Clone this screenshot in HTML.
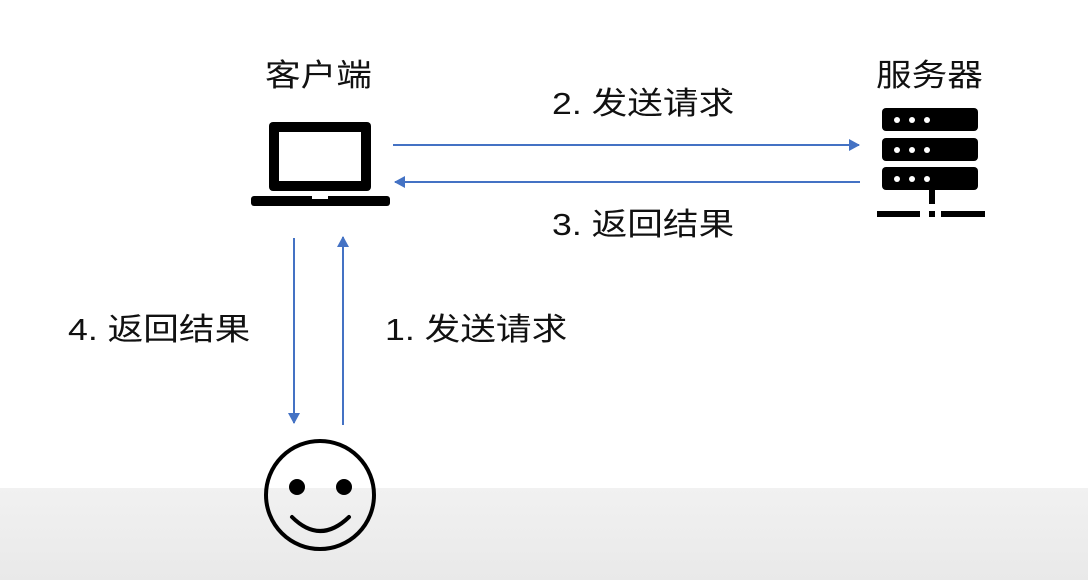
<!DOCTYPE html>
<html><head><meta charset="utf-8"><style>
html,body{margin:0;padding:0}
body{width:1088px;height:580px;position:relative;overflow:hidden;background:#fff;font-family:"Liberation Sans","Noto Sans CJK SC",sans-serif;}
.band{position:absolute;left:0;top:488px;width:1088px;height:92px;background:linear-gradient(#f1f1f1,#e9e9e9);}
.t{position:absolute;font-size:31px;color:#111;white-space:nowrap;line-height:1;transform:scaleX(1.15);transform-origin:0 0;}
svg{position:absolute;left:0;top:0}
</style></head><body>
<div class="band"></div>
<svg width="1088" height="580" viewBox="0 0 1088 580">
<defs>
<marker id="a" markerWidth="12" markerHeight="12" refX="10" refY="6" orient="auto" markerUnits="userSpaceOnUse">
<path d="M0,0 L11,6 L0,12 z" fill="#4472c4"/></marker>
</defs>
<g stroke="#4472c4" stroke-width="2" fill="none">
<line x1="393" y1="145" x2="859" y2="145" marker-end="url(#a)"/>
<line x1="860" y1="182" x2="395" y2="182" marker-end="url(#a)"/>
<line x1="294" y1="238" x2="294" y2="423" marker-end="url(#a)"/>
<line x1="343" y1="425" x2="343" y2="237" marker-end="url(#a)"/>
</g>
<rect x="269" y="122" width="102" height="69" rx="4" fill="#000"/>
<rect x="279" y="132" width="82" height="49" fill="#fff"/>
<rect x="251" y="196" width="139" height="10" rx="3" fill="#000"/>
<rect x="312" y="196" width="16" height="3" fill="#fff"/>
<g fill="#000">
<rect x="882" y="108" width="96" height="23" rx="4"/>
<rect x="882" y="138" width="96" height="23" rx="4"/>
<rect x="882" y="167" width="96" height="23" rx="4"/>
<rect x="929" y="189" width="6" height="15"/>
<rect x="877" y="211" width="43" height="6"/>
<rect x="929" y="211" width="6" height="6"/>
<rect x="941" y="211" width="44" height="6"/>
</g>
<g fill="#fff">
<circle cx="897" cy="120" r="3"/><circle cx="912" cy="120" r="3"/><circle cx="927" cy="120" r="3"/>
<circle cx="897" cy="150" r="3"/><circle cx="912" cy="150" r="3"/><circle cx="927" cy="150" r="3"/>
<circle cx="897" cy="179" r="3"/><circle cx="912" cy="179" r="3"/><circle cx="927" cy="179" r="3"/>
</g>
<circle cx="320" cy="495" r="54" fill="none" stroke="#000" stroke-width="4"/>
<circle cx="297" cy="487" r="8" fill="#000"/>
<circle cx="344" cy="487" r="8" fill="#000"/>
<path d="M292,517 Q320,545 349,517" fill="none" stroke="#000" stroke-width="4" stroke-linecap="round"/>
</svg>
<div class="t" style="left:265px;top:60px">客户端</div>
<div class="t" style="left:876px;top:60px">服务器</div>
<div class="t" style="left:552px;top:88px">2. 发送请求</div>
<div class="t" style="left:552px;top:209px">3. 返回结果</div>
<div class="t" style="left:68px;top:314px">4. 返回结果</div>
<div class="t" style="left:385px;top:314px">1. 发送请求</div>
</body></html>
